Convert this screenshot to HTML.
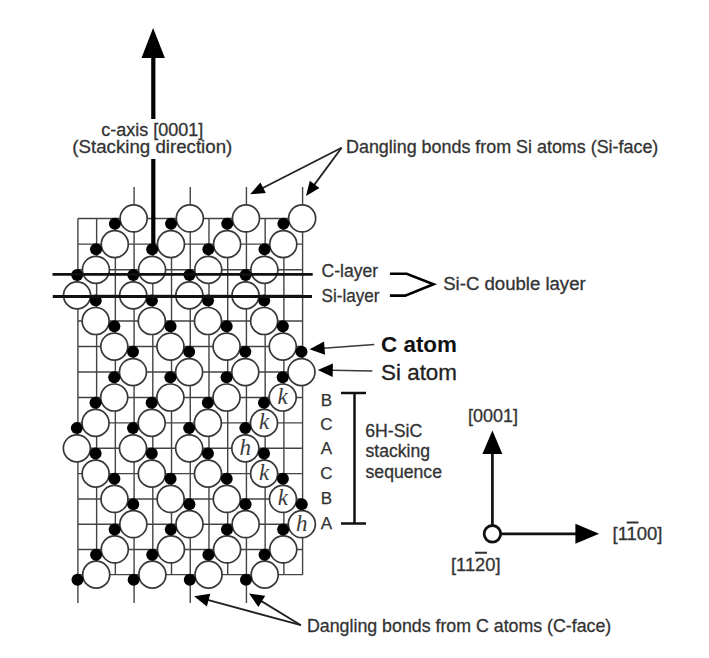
<!DOCTYPE html>
<html><head><meta charset="utf-8"><style>html,body{margin:0;padding:0;background:#fff;width:709px;height:658px;overflow:hidden;position:relative}</style></head>
<body>
<svg width="709" height="658" viewBox="0 0 709 658" style="position:absolute;left:0;top:0">
<rect width="709" height="658" fill="#fff"/>
<path d="M77.90 218.47H302.60M77.90 244.16H302.60M77.90 269.81H302.60M77.90 295.42H302.60M77.90 321.00H302.60M77.90 346.54H302.60M77.90 372.04H302.60M77.90 397.50H302.60M77.90 422.92H302.60M77.90 448.30H302.60M77.90 473.65H302.60M77.90 498.96H302.60M77.90 524.22H302.60M77.90 549.46H302.60M77.90 574.65H302.60M77.90 218.47V574.65M96.62 218.47V574.65M115.35 218.47V574.65M134.08 218.47V574.65M152.80 218.47V574.65M171.53 218.47V574.65M190.25 218.47V574.65M208.98 218.47V574.65M227.70 218.47V574.65M246.43 218.47V574.65M265.15 218.47V574.65M283.88 218.47V574.65M302.60 218.47V574.65M134.08 187V204.97M190.25 187V204.97M246.43 187V204.97M302.60 187V204.97M77.90 579.85V603M134.08 579.85V603M190.25 579.85V603M246.43 579.85V603" stroke="#444" stroke-width="1.4" fill="none"/>
<circle cx="133.66" cy="218.47" r="13.5" fill="#fff" stroke="#383838" stroke-width="1.7"/>
<circle cx="189.82" cy="218.47" r="13.5" fill="#fff" stroke="#383838" stroke-width="1.7"/>
<circle cx="245.98" cy="218.47" r="13.5" fill="#fff" stroke="#383838" stroke-width="1.7"/>
<circle cx="302.14" cy="218.47" r="13.5" fill="#fff" stroke="#383838" stroke-width="1.7"/>
<circle cx="114.78" cy="244.16" r="13.5" fill="#fff" stroke="#383838" stroke-width="1.7"/>
<circle cx="170.94" cy="244.16" r="13.5" fill="#fff" stroke="#383838" stroke-width="1.7"/>
<circle cx="227.10" cy="244.16" r="13.5" fill="#fff" stroke="#383838" stroke-width="1.7"/>
<circle cx="283.26" cy="244.16" r="13.5" fill="#fff" stroke="#383838" stroke-width="1.7"/>
<circle cx="95.91" cy="269.81" r="13.5" fill="#fff" stroke="#383838" stroke-width="1.7"/>
<circle cx="152.07" cy="269.81" r="13.5" fill="#fff" stroke="#383838" stroke-width="1.7"/>
<circle cx="208.23" cy="269.81" r="13.5" fill="#fff" stroke="#383838" stroke-width="1.7"/>
<circle cx="264.39" cy="269.81" r="13.5" fill="#fff" stroke="#383838" stroke-width="1.7"/>
<circle cx="77.05" cy="295.42" r="13.5" fill="#fff" stroke="#383838" stroke-width="1.7"/>
<circle cx="133.21" cy="295.42" r="13.5" fill="#fff" stroke="#383838" stroke-width="1.7"/>
<circle cx="189.37" cy="295.42" r="13.5" fill="#fff" stroke="#383838" stroke-width="1.7"/>
<circle cx="245.53" cy="295.42" r="13.5" fill="#fff" stroke="#383838" stroke-width="1.7"/>
<circle cx="95.66" cy="321.00" r="13.5" fill="#fff" stroke="#383838" stroke-width="1.7"/>
<circle cx="151.82" cy="321.00" r="13.5" fill="#fff" stroke="#383838" stroke-width="1.7"/>
<circle cx="207.98" cy="321.00" r="13.5" fill="#fff" stroke="#383838" stroke-width="1.7"/>
<circle cx="264.14" cy="321.00" r="13.5" fill="#fff" stroke="#383838" stroke-width="1.7"/>
<circle cx="114.29" cy="346.54" r="13.5" fill="#fff" stroke="#383838" stroke-width="1.7"/>
<circle cx="170.45" cy="346.54" r="13.5" fill="#fff" stroke="#383838" stroke-width="1.7"/>
<circle cx="226.61" cy="346.54" r="13.5" fill="#fff" stroke="#383838" stroke-width="1.7"/>
<circle cx="282.77" cy="346.54" r="13.5" fill="#fff" stroke="#383838" stroke-width="1.7"/>
<circle cx="132.96" cy="372.04" r="13.5" fill="#fff" stroke="#383838" stroke-width="1.7"/>
<circle cx="189.12" cy="372.04" r="13.5" fill="#fff" stroke="#383838" stroke-width="1.7"/>
<circle cx="245.28" cy="372.04" r="13.5" fill="#fff" stroke="#383838" stroke-width="1.7"/>
<circle cx="301.44" cy="372.04" r="13.5" fill="#fff" stroke="#383838" stroke-width="1.7"/>
<circle cx="114.22" cy="397.50" r="13.5" fill="#fff" stroke="#383838" stroke-width="1.7"/>
<circle cx="170.38" cy="397.50" r="13.5" fill="#fff" stroke="#383838" stroke-width="1.7"/>
<circle cx="226.54" cy="397.50" r="13.5" fill="#fff" stroke="#383838" stroke-width="1.7"/>
<circle cx="282.70" cy="397.50" r="13.5" fill="#fff" stroke="#383838" stroke-width="1.7"/>
<circle cx="95.52" cy="422.92" r="13.5" fill="#fff" stroke="#383838" stroke-width="1.7"/>
<circle cx="151.68" cy="422.92" r="13.5" fill="#fff" stroke="#383838" stroke-width="1.7"/>
<circle cx="207.84" cy="422.92" r="13.5" fill="#fff" stroke="#383838" stroke-width="1.7"/>
<circle cx="264.00" cy="422.92" r="13.5" fill="#fff" stroke="#383838" stroke-width="1.7"/>
<circle cx="76.85" cy="448.30" r="13.5" fill="#fff" stroke="#383838" stroke-width="1.7"/>
<circle cx="133.01" cy="448.30" r="13.5" fill="#fff" stroke="#383838" stroke-width="1.7"/>
<circle cx="189.17" cy="448.30" r="13.5" fill="#fff" stroke="#383838" stroke-width="1.7"/>
<circle cx="245.33" cy="448.30" r="13.5" fill="#fff" stroke="#383838" stroke-width="1.7"/>
<circle cx="95.66" cy="473.65" r="13.5" fill="#fff" stroke="#383838" stroke-width="1.7"/>
<circle cx="151.82" cy="473.65" r="13.5" fill="#fff" stroke="#383838" stroke-width="1.7"/>
<circle cx="207.98" cy="473.65" r="13.5" fill="#fff" stroke="#383838" stroke-width="1.7"/>
<circle cx="264.14" cy="473.65" r="13.5" fill="#fff" stroke="#383838" stroke-width="1.7"/>
<circle cx="114.49" cy="498.96" r="13.5" fill="#fff" stroke="#383838" stroke-width="1.7"/>
<circle cx="170.65" cy="498.96" r="13.5" fill="#fff" stroke="#383838" stroke-width="1.7"/>
<circle cx="226.81" cy="498.96" r="13.5" fill="#fff" stroke="#383838" stroke-width="1.7"/>
<circle cx="282.97" cy="498.96" r="13.5" fill="#fff" stroke="#383838" stroke-width="1.7"/>
<circle cx="133.35" cy="524.22" r="13.5" fill="#fff" stroke="#383838" stroke-width="1.7"/>
<circle cx="189.51" cy="524.22" r="13.5" fill="#fff" stroke="#383838" stroke-width="1.7"/>
<circle cx="245.67" cy="524.22" r="13.5" fill="#fff" stroke="#383838" stroke-width="1.7"/>
<circle cx="301.83" cy="524.22" r="13.5" fill="#fff" stroke="#383838" stroke-width="1.7"/>
<circle cx="114.78" cy="549.46" r="13.5" fill="#fff" stroke="#383838" stroke-width="1.7"/>
<circle cx="170.94" cy="549.46" r="13.5" fill="#fff" stroke="#383838" stroke-width="1.7"/>
<circle cx="227.10" cy="549.46" r="13.5" fill="#fff" stroke="#383838" stroke-width="1.7"/>
<circle cx="283.26" cy="549.46" r="13.5" fill="#fff" stroke="#383838" stroke-width="1.7"/>
<circle cx="96.22" cy="574.65" r="13.5" fill="#fff" stroke="#383838" stroke-width="1.7"/>
<circle cx="152.38" cy="574.65" r="13.5" fill="#fff" stroke="#383838" stroke-width="1.7"/>
<circle cx="208.54" cy="574.65" r="13.5" fill="#fff" stroke="#383838" stroke-width="1.7"/>
<circle cx="264.70" cy="574.65" r="13.5" fill="#fff" stroke="#383838" stroke-width="1.7"/>
<circle cx="114.91" cy="223.67" r="6.0" fill="#000"/>
<circle cx="171.07" cy="223.67" r="6.0" fill="#000"/>
<circle cx="227.23" cy="223.67" r="6.0" fill="#000"/>
<circle cx="283.39" cy="223.67" r="6.0" fill="#000"/>
<circle cx="96.03" cy="249.36" r="6.0" fill="#000"/>
<circle cx="152.19" cy="249.36" r="6.0" fill="#000"/>
<circle cx="208.35" cy="249.36" r="6.0" fill="#000"/>
<circle cx="264.51" cy="249.36" r="6.0" fill="#000"/>
<circle cx="77.16" cy="275.01" r="6.0" fill="#000"/>
<circle cx="133.32" cy="275.01" r="6.0" fill="#000"/>
<circle cx="189.48" cy="275.01" r="6.0" fill="#000"/>
<circle cx="245.64" cy="275.01" r="6.0" fill="#000"/>
<circle cx="95.75" cy="300.62" r="6.0" fill="#000"/>
<circle cx="151.91" cy="300.62" r="6.0" fill="#000"/>
<circle cx="208.07" cy="300.62" r="6.0" fill="#000"/>
<circle cx="264.23" cy="300.62" r="6.0" fill="#000"/>
<circle cx="114.36" cy="326.20" r="6.0" fill="#000"/>
<circle cx="170.52" cy="326.20" r="6.0" fill="#000"/>
<circle cx="226.68" cy="326.20" r="6.0" fill="#000"/>
<circle cx="282.84" cy="326.20" r="6.0" fill="#000"/>
<circle cx="133.00" cy="351.74" r="6.0" fill="#000"/>
<circle cx="189.16" cy="351.74" r="6.0" fill="#000"/>
<circle cx="245.32" cy="351.74" r="6.0" fill="#000"/>
<circle cx="301.48" cy="351.74" r="6.0" fill="#000"/>
<circle cx="114.23" cy="377.24" r="6.0" fill="#000"/>
<circle cx="170.39" cy="377.24" r="6.0" fill="#000"/>
<circle cx="226.55" cy="377.24" r="6.0" fill="#000"/>
<circle cx="282.71" cy="377.24" r="6.0" fill="#000"/>
<circle cx="95.50" cy="402.70" r="6.0" fill="#000"/>
<circle cx="151.66" cy="402.70" r="6.0" fill="#000"/>
<circle cx="207.82" cy="402.70" r="6.0" fill="#000"/>
<circle cx="263.98" cy="402.70" r="6.0" fill="#000"/>
<circle cx="76.81" cy="428.12" r="6.0" fill="#000"/>
<circle cx="132.97" cy="428.12" r="6.0" fill="#000"/>
<circle cx="189.13" cy="428.12" r="6.0" fill="#000"/>
<circle cx="245.29" cy="428.12" r="6.0" fill="#000"/>
<circle cx="95.59" cy="453.50" r="6.0" fill="#000"/>
<circle cx="151.75" cy="453.50" r="6.0" fill="#000"/>
<circle cx="207.91" cy="453.50" r="6.0" fill="#000"/>
<circle cx="264.07" cy="453.50" r="6.0" fill="#000"/>
<circle cx="114.40" cy="478.85" r="6.0" fill="#000"/>
<circle cx="170.56" cy="478.85" r="6.0" fill="#000"/>
<circle cx="226.72" cy="478.85" r="6.0" fill="#000"/>
<circle cx="282.88" cy="478.85" r="6.0" fill="#000"/>
<circle cx="133.24" cy="504.16" r="6.0" fill="#000"/>
<circle cx="189.40" cy="504.16" r="6.0" fill="#000"/>
<circle cx="245.56" cy="504.16" r="6.0" fill="#000"/>
<circle cx="301.72" cy="504.16" r="6.0" fill="#000"/>
<circle cx="114.66" cy="529.42" r="6.0" fill="#000"/>
<circle cx="170.82" cy="529.42" r="6.0" fill="#000"/>
<circle cx="226.98" cy="529.42" r="6.0" fill="#000"/>
<circle cx="283.14" cy="529.42" r="6.0" fill="#000"/>
<circle cx="96.09" cy="554.66" r="6.0" fill="#000"/>
<circle cx="152.25" cy="554.66" r="6.0" fill="#000"/>
<circle cx="208.41" cy="554.66" r="6.0" fill="#000"/>
<circle cx="264.57" cy="554.66" r="6.0" fill="#000"/>
<circle cx="77.50" cy="579.85" r="6.0" fill="#000"/>
<circle cx="133.66" cy="579.85" r="6.0" fill="#000"/>
<circle cx="189.82" cy="579.85" r="6.0" fill="#000"/>
<circle cx="245.98" cy="579.85" r="6.0" fill="#000"/>
<text x="282.70" y="403.80" font-family="Liberation Serif" font-style="italic" font-size="23" text-anchor="middle" fill="#3a3a3a">k</text>
<text x="264.00" y="429.22" font-family="Liberation Serif" font-style="italic" font-size="23" text-anchor="middle" fill="#3a3a3a">k</text>
<text x="245.33" y="454.60" font-family="Liberation Serif" font-style="italic" font-size="23" text-anchor="middle" fill="#3a3a3a">h</text>
<text x="264.14" y="479.95" font-family="Liberation Serif" font-style="italic" font-size="23" text-anchor="middle" fill="#3a3a3a">k</text>
<text x="282.97" y="505.26" font-family="Liberation Serif" font-style="italic" font-size="23" text-anchor="middle" fill="#3a3a3a">k</text>
<text x="301.83" y="530.52" font-family="Liberation Serif" font-style="italic" font-size="23" text-anchor="middle" fill="#3a3a3a">h</text>
<path d="M52.5 274.3H312.7M52.8 296.5H312" stroke="#111" stroke-width="2.8" fill="none"/>
<path d="M153.3 57V119M153.3 159V249" stroke="#000" stroke-width="4.2" fill="none"/>
<path d="M141.5 58L164.9 58L153.1 28Z" fill="#000"/>
<path d="M341.60 147.80L262.23 188.18" stroke="#222" stroke-width="1.8" fill="none"/><path d="M250.20 194.30L260.40 182.38L265.84 193.07Z" fill="#000"/>
<path d="M341.60 147.80L314.02 185.14" stroke="#222" stroke-width="1.8" fill="none"/><path d="M306.00 196.00L309.79 180.77L319.44 187.90Z" fill="#000"/>
<path d="M300.90 625.20L207.61 599.87" stroke="#222" stroke-width="1.8" fill="none"/><path d="M194.10 596.20L210.28 593.86L206.87 606.40Z" fill="#000"/>
<path d="M300.90 625.20L260.96 600.88" stroke="#222" stroke-width="1.8" fill="none"/><path d="M249.00 593.60L265.19 595.85L258.43 606.95Z" fill="#000"/>
<path d="M374.30 344.50L323.56 348.26" stroke="#3a3a3a" stroke-width="1.6" fill="none"/><path d="M309.60 349.30L324.06 341.51L325.05 354.87Z" fill="#000"/>
<path d="M372.40 371.00L331.80 370.18" stroke="#3a3a3a" stroke-width="1.6" fill="none"/><path d="M317.80 369.90L332.93 363.50L332.66 376.90Z" fill="#000"/>
<path d="M389.9 273.8H406.7L433.5 284.2L405.2 295.6H389.9" stroke="#000" stroke-width="2.6" fill="none"/>
<path d="M354.5 393V523.4M341 393H366M341 523.4H366" stroke="#111" stroke-width="2.5" fill="none"/>
<path d="M492.4 524.7V452M501 533.8H576" stroke="#111" stroke-width="2.7" fill="none"/>
<path d="M492.4 430.6L482.4 454L502.4 454Z M599.1 533.8L575.4 523.8L575.4 543.8Z" fill="#000"/>
<circle cx="492.4" cy="533.8" r="8.3" fill="#fff" stroke="#111" stroke-width="2.8"/>
<text x="101.2" y="135.6" font-family="Liberation Sans" font-size="18" font-weight="normal" fill="#333" stroke="#333" stroke-width="0.3" textLength="102" lengthAdjust="spacingAndGlyphs">c-axis [0001]</text>
<text x="72.3" y="153.1" font-family="Liberation Sans" font-size="18.3" font-weight="normal" fill="#333" stroke="#333" stroke-width="0.3" textLength="160" lengthAdjust="spacingAndGlyphs">(Stacking direction)</text>
<text x="346.0" y="152.6" font-family="Liberation Sans" font-size="17.8" font-weight="normal" fill="#333" stroke="#333" stroke-width="0.3" textLength="312.3" lengthAdjust="spacingAndGlyphs">Dangling bonds from Si atoms (Si-face)</text>
<text x="321.5" y="277.3" font-family="Liberation Sans" font-size="17.5" font-weight="normal" fill="#333" stroke="#333" stroke-width="0.3" textLength="56.5" lengthAdjust="spacingAndGlyphs">C-layer</text>
<text x="321.5" y="302.3" font-family="Liberation Sans" font-size="17.8" font-weight="normal" fill="#333" stroke="#333" stroke-width="0.3" textLength="58" lengthAdjust="spacingAndGlyphs">Si-layer</text>
<text x="443.2" y="289.8" font-family="Liberation Sans" font-size="18" font-weight="normal" fill="#333" stroke="#333" stroke-width="0.3" textLength="142.5" lengthAdjust="spacingAndGlyphs">Si-C double layer</text>
<text x="365.2" y="436.8" font-family="Liberation Sans" font-size="17.5" font-weight="normal" fill="#333" stroke="#333" stroke-width="0.3" textLength="57" lengthAdjust="spacingAndGlyphs">6H-SiC</text>
<text x="365.5" y="457.2" font-family="Liberation Sans" font-size="17.5" font-weight="normal" fill="#333" stroke="#333" stroke-width="0.3" textLength="64.5" lengthAdjust="spacingAndGlyphs">stacking</text>
<text x="365.5" y="477.7" font-family="Liberation Sans" font-size="17.5" font-weight="normal" fill="#333" stroke="#333" stroke-width="0.3" textLength="76.5" lengthAdjust="spacingAndGlyphs">sequence</text>
<text x="468" y="421.5" font-family="Liberation Sans" font-size="18" font-weight="normal" fill="#333" stroke="#333" stroke-width="0.3" textLength="50" lengthAdjust="spacingAndGlyphs">[0001]</text>
<text x="612.5" y="540" font-family="Liberation Sans" font-size="18" font-weight="normal" fill="#333" stroke="#333" stroke-width="0.3" textLength="50" lengthAdjust="spacingAndGlyphs">[1100]</text>
<text x="451" y="570.8" font-family="Liberation Sans" font-size="18" font-weight="normal" fill="#333" stroke="#333" stroke-width="0.3" textLength="49.5" lengthAdjust="spacingAndGlyphs">[1120]</text>
<text x="307.0" y="632.4" font-family="Liberation Sans" font-size="17.7" font-weight="normal" fill="#333" stroke="#333" stroke-width="0.3" textLength="304.3" lengthAdjust="spacingAndGlyphs">Dangling bonds from C atoms (C-face)</text>
<text x="381" y="351.6" font-family="Liberation Sans" font-size="22.5" font-weight="bold" fill="#111" stroke="#111" stroke-width="0" textLength="76" lengthAdjust="spacingAndGlyphs">C atom</text>
<text x="381" y="380.4" font-family="Liberation Sans" font-size="22.5" font-weight="normal" fill="#222" stroke="#222" stroke-width="0.3" textLength="76" lengthAdjust="spacingAndGlyphs">Si atom</text>
<text x="326.3" y="406.2" font-family="Liberation Sans" font-size="17" stroke="#333" stroke-width="0.25" text-anchor="middle" fill="#333">B</text>
<text x="326.3" y="430.0" font-family="Liberation Sans" font-size="17" stroke="#333" stroke-width="0.25" text-anchor="middle" fill="#333">C</text>
<text x="326.3" y="454.4" font-family="Liberation Sans" font-size="17" stroke="#333" stroke-width="0.25" text-anchor="middle" fill="#333">A</text>
<text x="326.3" y="479.3" font-family="Liberation Sans" font-size="17" stroke="#333" stroke-width="0.25" text-anchor="middle" fill="#333">C</text>
<text x="326.3" y="503.8" font-family="Liberation Sans" font-size="17" stroke="#333" stroke-width="0.25" text-anchor="middle" fill="#333">B</text>
<text x="326.3" y="529.4" font-family="Liberation Sans" font-size="17" stroke="#333" stroke-width="0.25" text-anchor="middle" fill="#333">A</text>
<path d="M626.7 522.4H638.5M475.1 552.8H487" stroke="#333" stroke-width="2"/>
</svg>
</body></html>
